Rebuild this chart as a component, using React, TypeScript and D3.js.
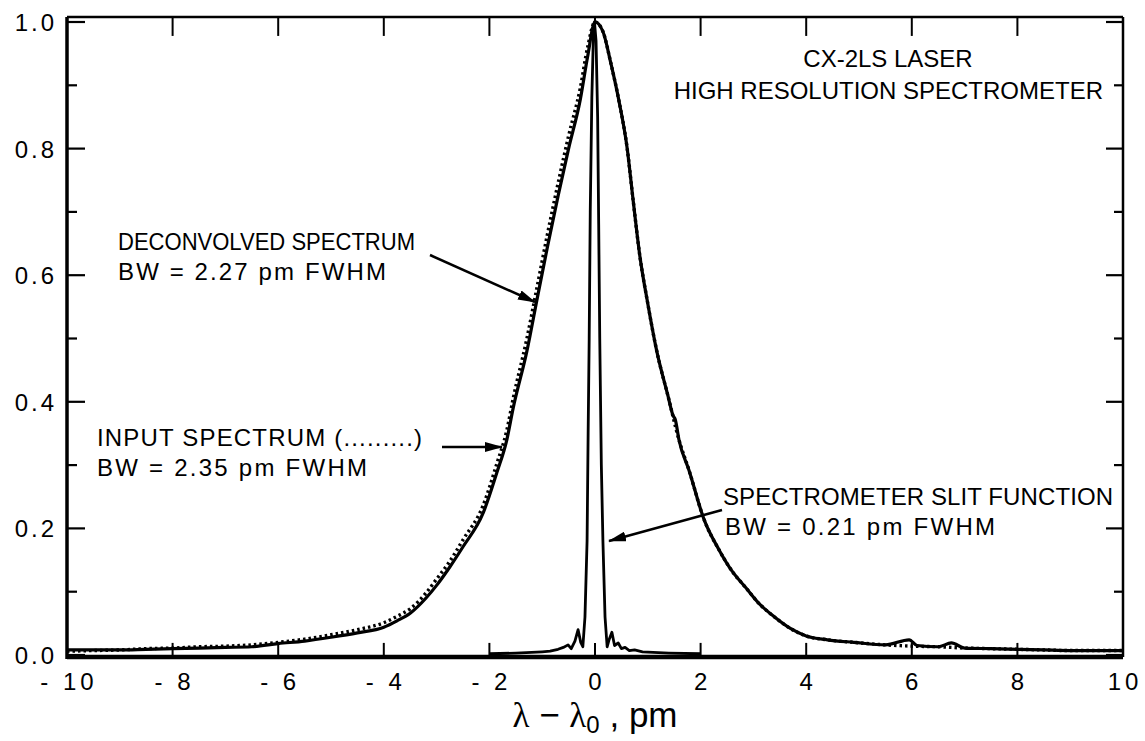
import React from 'react';
import * as d3 from 'd3';

// tick values
const xTicks = [-10, -8, -6, -4, -2, 0, 2, 4, 6, 8, 10];
const yTicks = [0, 0.2, 0.4, 0.6, 0.8, 1.0];
const yMinorTicks = [0.1, 0.3, 0.5, 0.7, 0.9];

// deconvolved spectrum (solid)
const deconvX = [-10, -9.5, -9, -8.5, -8, -7.5, -7, -6.5, -6, -5.5, -5, -4.5, -4, -3.75, -3.5, -3.2, -3.0, -2.75, -2.5, -2.12, -1.86, -1.67, -1.55, -1.29, -1.1, -0.9, -0.7, -0.5, -0.28, -0.14, 0, 0.15, 0.3, 0.45, 0.61, 0.72, 0.85, 1.0, 1.17, 1.38, 1.48, 1.52, 1.59, 1.78, 2.07, 2.35, 2.6, 2.85, 3.1, 3.4, 3.7, 4.0, 4.4, 4.9, 5.5, 5.95, 6.1, 6.5, 6.75, 7.0, 7.5, 8, 8.5, 9, 9.5, 10];
const deconvY = [0.008, 0.008, 0.008, 0.009, 0.010, 0.011, 0.012, 0.013, 0.018, 0.022, 0.028, 0.035, 0.044, 0.054, 0.066, 0.09, 0.11, 0.139, 0.171, 0.224, 0.288, 0.34, 0.39, 0.48, 0.561, 0.645, 0.725, 0.80, 0.877, 0.945, 1.0, 0.985, 0.935, 0.877, 0.80, 0.72, 0.63, 0.555, 0.48, 0.41, 0.378, 0.372, 0.34, 0.292, 0.213, 0.166, 0.132, 0.107, 0.082, 0.06, 0.042, 0.03, 0.024, 0.02, 0.016, 0.024, 0.015, 0.013, 0.019, 0.011, 0.010, 0.009, 0.008, 0.007, 0.007, 0.007];

// input spectrum (dotted)
const inputX = [-10, -9.5, -9, -8.5, -8, -7.5, -7, -6.5, -6, -5.5, -5, -4.5, -4, -3.75, -3.5, -3.2, -3.0, -2.75, -2.5, -2.12, -1.86, -1.67, -1.55, -1.29, -1.1, -0.9, -0.7, -0.5, -0.28, -0.14, 0, 0.15, 0.3, 0.45, 0.61, 0.72, 0.85, 1.0, 1.17, 1.38, 1.59, 1.78, 2.07, 2.35, 2.6, 2.85, 3.1, 3.4, 3.7, 4.0, 4.4, 4.9, 5.5, 6.0, 6.5, 7.0, 7.5, 8, 8.5, 9, 9.5, 10];
const inputY = [0.006, 0.007, 0.008, 0.01, 0.011, 0.013, 0.014, 0.016, 0.02, 0.025, 0.032, 0.04, 0.051, 0.061, 0.073, 0.098, 0.12, 0.148, 0.182, 0.236, 0.302, 0.355, 0.405, 0.50, 0.58, 0.665, 0.745, 0.82, 0.895, 0.96, 1.0, 0.985, 0.935, 0.877, 0.80, 0.72, 0.63, 0.555, 0.48, 0.41, 0.34, 0.292, 0.213, 0.166, 0.132, 0.107, 0.082, 0.06, 0.042, 0.03, 0.024, 0.02, 0.016, 0.014, 0.013, 0.011, 0.010, 0.009, 0.008, 0.007, 0.007, 0.007];

// spectrometer slit function
const slitX = [-2.0, -1.5, -1.2, -1.0, -0.85, -0.7, -0.6, -0.51, -0.45, -0.38, -0.32, -0.27, -0.23, -0.19, -0.15, -0.13, -0.11, -0.09, -0.06, -0.03, -0.01, 0.02, 0.05, 0.07, 0.09, 0.12, 0.15, 0.19, 0.23, 0.27, 0.32, 0.37, 0.44, 0.5, 0.57, 0.65, 0.75, 0.9, 1.1, 1.4, 2.0];
const slitY = [0.002, 0.003, 0.004, 0.005, 0.006, 0.009, 0.012, 0.016, 0.01, 0.022, 0.04, 0.02, 0.013, 0.06, 0.18, 0.35, 0.5, 0.7, 0.88, 0.98, 1.0, 0.97, 0.85, 0.68, 0.5, 0.3, 0.18, 0.06, 0.013, 0.025, 0.036, 0.015, 0.019, 0.01, 0.012, 0.007, 0.008, 0.005, 0.004, 0.003, 0.002];

const W = 1145;
const H = 741;
const font = "'Liberation Sans', Arial, Helvetica, sans-serif";
const serif = "'Liberation Serif', 'DejaVu Serif', serif";

export default function App() {
  const x = d3.scaleLinear().domain([-10, 10]).range([67, 1123]);
  const y = d3.scaleLinear().domain([0, 1]).range([655, 22]);

  const line = d3.line<[number, number]>()
    .x(d => x(d[0]))
    .y(d => y(d[1]))
    .curve(d3.curveMonotoneX);
  const slitLine = d3.line<[number, number]>()
    .x(d => x(d[0]))
    .y(d => y(d[1]));

  const deconv = deconvX.map((v, i) => [v, deconvY[i]] as [number, number]);
  const input = inputX.map((v, i) => [v, inputY[i]] as [number, number]);
  const slit = slitX.map((v, i) => [v, slitY[i]] as [number, number]);

  const left = x(-10), right = x(10);
  const top = y(1.008), bottom = y(-0.003);

  const xLabel = (d: number) => (d < 0 ? `- ${Math.abs(d)}` : `${d}`);

  return (
    <svg width={W} height={H} style={{ position: 'absolute', left: 0, top: 0, background: '#fff' }}
      fontFamily={font}>
      <defs>
        <marker id="arr" markerUnits="userSpaceOnUse" markerWidth="18" markerHeight="10"
          refX="17" refY="5" orient="auto">
          <path d="M0,0 L18,5 L0,10 z" fill="#000" />
        </marker>
      </defs>

      {/* curves */}
      <path d={line(input) || ''} fill="none" stroke="#000" strokeWidth={3.4}
        strokeDasharray="2.5,3" />
      <path d={line(deconv) || ''} fill="none" stroke="#000" strokeWidth={3.2} />
      <path d={slitLine(slit) || ''} fill="none" stroke="#000" strokeWidth={2.8}
        strokeLinejoin="round" />

      {/* frame */}
      <line x1={left} x2={right} y1={top} y2={top} stroke="#000" strokeWidth={2.5} />
      <line x1={right} x2={right} y1={top} y2={bottom} stroke="#000" strokeWidth={2.5} />
      <line x1={left} x2={left} y1={top} y2={bottom + 2} stroke="#000" strokeWidth={3.5} />
      <line x1={left} x2={right} y1={bottom} y2={bottom} stroke="#000" strokeWidth={4.5} />

      {/* x ticks */}
      {xTicks.map(t => (
        <g key={'x' + t}>
          <line x1={x(t)} x2={x(t)} y1={bottom} y2={bottom - 14} stroke="#000" strokeWidth={2} />
          <line x1={x(t)} x2={x(t)} y1={top} y2={top + 19} stroke="#000" strokeWidth={2} />
          <text x={x(t) + 2} y={690} fontSize={24} textAnchor="middle" letterSpacing={4}>
            {xLabel(t)}
          </text>
        </g>
      ))}

      {/* y ticks */}
      {yTicks.map(t => (
        <g key={'y' + t}>
          <line x1={left} x2={left + 18} y1={y(t)} y2={y(t)} stroke="#000" strokeWidth={2.2} />
          <line x1={right} x2={right - 17} y1={y(t)} y2={y(t)} stroke="#000" strokeWidth={2.2} />
          <text x={57} y={y(t) + 9} fontSize={24} textAnchor="end" letterSpacing={3}>
            {t.toFixed(1)}
          </text>
        </g>
      ))}
      {yMinorTicks.map(t => (
        <g key={'ym' + t}>
          <line x1={left} x2={left + 10} y1={y(t)} y2={y(t)} stroke="#000" strokeWidth={2.2} />
          <line x1={right} x2={right - 9} y1={y(t)} y2={y(t)} stroke="#000" strokeWidth={2.2} />
        </g>
      ))}

      {/* axis title */}
      <text x={x(0)} y={727} fontSize={35} textAnchor="middle">
        <tspan fontFamily={serif}>λ</tspan>
        <tspan> − </tspan>
        <tspan fontFamily={serif}>λ</tspan>
        <tspan fontSize={24} dy={6}>0</tspan>
        <tspan dy={-6}> , pm</tspan>
      </text>

      {/* title */}
      <text x={888} y={67} fontSize={24} textAnchor="middle">CX-2LS LASER</text>
      <text x={1103} y={99} fontSize={24} textAnchor="end">HIGH RESOLUTION SPECTROMETER</text>

      {/* annotations */}
      <text x={118} y={250} fontSize={24} textLength={297} lengthAdjust="spacingAndGlyphs">DECONVOLVED SPECTRUM</text>
      <text x={118} y={280} fontSize={24} textLength={268} lengthAdjust="spacing">BW = 2.27 pm FWHM</text>
      <line x1={430} y1={255} x2={535} y2={302} stroke="#000" strokeWidth={2.5} markerEnd="url(#arr)" />

      <text x={97} y={446} fontSize={24} textLength={325} lengthAdjust="spacing">INPUT SPECTRUM (.........)</text>
      <text x={97} y={476} fontSize={24} textLength={270} lengthAdjust="spacing">BW = 2.35 pm FWHM</text>
      <line x1={442} y1={447} x2={502} y2={447} stroke="#000" strokeWidth={2.5} markerEnd="url(#arr)" />

      <text x={723} y={505} fontSize={24} textLength={390} lengthAdjust="spacing">SPECTROMETER SLIT FUNCTION</text>
      <text x={725} y={535} fontSize={24} textLength={270} lengthAdjust="spacing">BW = 0.21 pm FWHM</text>
      <line x1={722} y1={510} x2={609} y2={541} stroke="#000" strokeWidth={2.5} markerEnd="url(#arr)" />
    </svg>
  );
}
